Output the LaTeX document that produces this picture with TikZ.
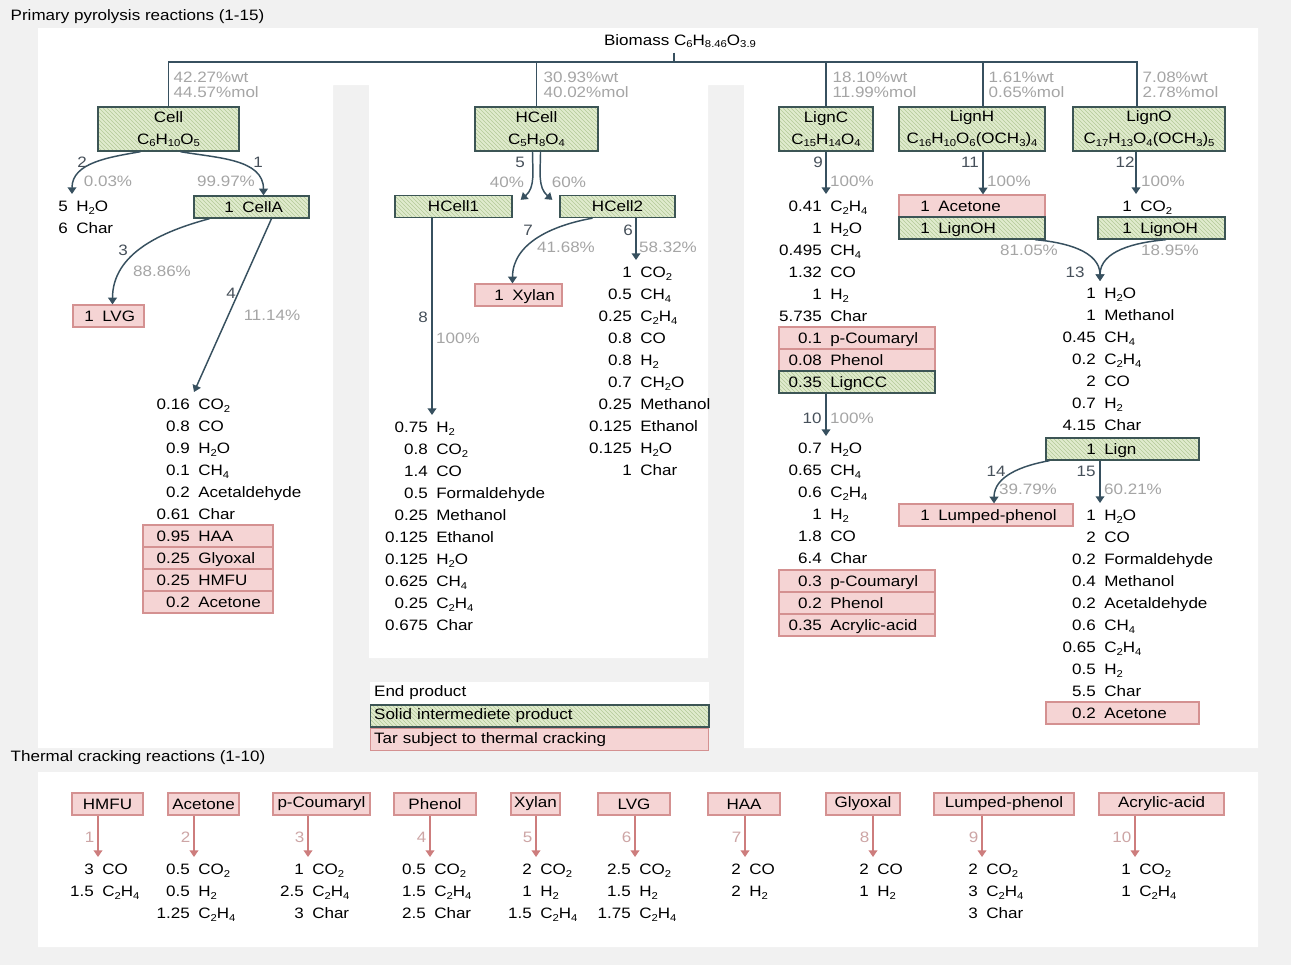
\documentclass[tikz,border=0pt]{standalone}
\usepackage{fontspec}
\setmainfont{Liberation Sans}[FakeStretch=1.13]
\usetikzlibrary{arrows.meta, positioning, calc, patterns}
\definecolor{bggray}{RGB}{241,241,241}
\definecolor{adark}{RGB}{55,80,95}
\definecolor{sfill}{RGB}{224,235,206}
\definecolor{shatch}{RGB}{180,202,152}
\definecolor{sdraw}{RGB}{60,85,85}
\definecolor{tfill}{RGB}{245,212,212}
\definecolor{tdraw}{RGB}{212,145,145}
\definecolor{pctgray}{RGB}{165,165,165}
\definecolor{rnogray}{RGB}{70,80,90}
\definecolor{tarrow}{RGB}{205,125,125}
\definecolor{tnum}{RGB}{205,165,165}

\newdimen\px \px=0.75pt
\newcommand\sub[1]{\raisebox{-2pt}{\fontsize{7.5}{7.5}\selectfont #1}}
\newcommand\dfont{\fontsize{11.3}{16.5}\selectfont}

% amount / species rows, split at x
\newcommand\splist[4]{%
  \coordinate (#1top) at (#2,#3-12);
  \foreach \amt/\spc [count=\ri from 0] in {#4} {
    \node[amt] (#1a\ri) at (#2,#3+22*\ri) {\amt};
    \node[spc] (#1s\ri) at (#2,#3+22*\ri) {\spc};
  }}
% same rows, each one in a box
\newcommand\boxrows[7]{%
  \foreach \amt/\spc [count=\ri from 0] in {#7}
    \node[#2, rowbox, minimum width=#4\px] (#1b\ri) at (#3,#6+22*\ri) {};
  \splist{#1}{#5}{#6}{#7}}

\begin{document}
\begin{tikzpicture}[x=0.75pt, y=-0.75pt, font=\dfont,
  link/.style={draw=adark, line width=1.1pt},
  arr/.style={link, -{Triangle[length=5pt, width=6.5pt]}},
  tarr/.style={draw=tarrow, line width=1.1pt, -{Triangle[length=5pt, width=6.5pt]}},
  solidbox/.style={draw=sdraw, line width=1pt, preaction={fill=sfill},
                   pattern=north west lines, pattern color=shatch},
  tarbox/.style={draw=tdraw, line width=0.9pt, fill=tfill},
  rowbox/.style={minimum height=22\px, inner sep=0pt},
  bigbox/.style={align=center, minimum height=44\px, inner sep=0pt},
  legbox/.style={minimum width=254pt, text width=248pt, align=left,
                 minimum height=16.5pt, inner xsep=3pt, inner ysep=0pt},
  amt/.style={anchor=east, inner xsep=3pt, inner ysep=0pt, text height=8pt, text depth=0pt},
  spc/.style={amt, anchor=west},
  pct/.style={text=pctgray, inner sep=1pt},
  rno/.style={text=rnogray, inner sep=1pt},
  tno/.style={text=tnum, inner sep=1pt}]
\useasboundingbox (0,0) rectangle (1291,965);
\fill[bggray] (0,0) rectangle (1291,965);
% white panels
\fill[white] (38,28) rectangle (1258,85) (38,85) rectangle (333,748)
  (369,85) rectangle (708,658) (744,85) rectangle (1258,748)
  (38,772) rectangle (1258,947);

\node[anchor=west] (prim) at (6,17) {Primary pyrolysis reactions (1-15)};
\node[anchor=west] (therm) at (6,758) {Thermal cracking reactions (1-10)};

% feed and components
\node (bio) at (680,41) {Biomass C\sub6H\sub{8.46}O\sub{3.9}};
\node[solidbox, bigbox, minimum width=141\px] (cell) at (168.5,129) {Cell\\C\sub6H\sub{10}O\sub5};
\node[solidbox, bigbox, minimum width=123\px] (hcell) at (536.5,129) {HCell\\C\sub5H\sub8O\sub4};
\node[solidbox, bigbox, minimum width=94\px] (lignc) at (826,129) {LignC\\C\sub{15}H\sub{14}O\sub4};
\node[solidbox, bigbox, minimum width=146\px] (lignh) at (972,129) {LignH\\C\sub{16}H\sub{10}O\sub6(OCH\sub3)\sub4};
\node[solidbox, bigbox, minimum width=152\px] (ligno) at (1149,129) {LignO\\C\sub{17}H\sub{13}O\sub4(OCH\sub3)\sub5};

\coordinate (top) at (674,62);
\coordinate (jh) at (983,62);
\coordinate (jo) at (1137,62);
\draw[link] (bio.south -| top) -- (top);
\draw[link] (cell.north) |- (jo) -- (jo |- ligno.north);
\draw[link] (hcell.north |- top) -- (hcell.north);
\draw[link] (lignc.north |- top) -- (lignc.north);
\draw[link] (jh) -- (jh |- lignh.north);

\foreach \nm/\x/\wt/\mol in {w1/172/42.27/44.57, w2/542/30.93/40.02,
    w3/831/18.10/11.99, w4/987/1.61/0.65, w5/1141/7.08/2.78}
  \node[pct, anchor=west, align=left, font=\fontsize{11.3}{11.25}\selectfont]
    (\nm) at (\x,84.5) {\wt\%wt\\\mol\%mol};

% cellulose
\boxrows{cella}{solidbox}{251.5}{115}{238}{207}{1/CellA}
\boxrows{lvg}{tarbox}{108.5}{71}{98}{316}{1/LVG}
\splist{wc}{72}{206}{5/H\sub2O, 6/Char}
\splist{ca}{194}{404}{0.16/CO\sub2, 0.8/CO, 0.9/H\sub2O, 0.1/CH\sub4, 0.2/Acetaldehyde, 0.61/Char}
\boxrows{cat}{tarbox}{208}{130}{194}{536}{0.95/HAA, 0.25/Glyoxal, 0.25/HMFU, 0.2/Acetone}

% hemicellulose
\node[solidbox, rowbox, minimum width=117\px] (hcell1) at (453.5,206.5) {HCell1};
\node[solidbox, rowbox, minimum width=115\px] (hcell2) at (617.5,206.5) {HCell2};
\boxrows{xylan}{tarbox}{518.5}{87}{508}{295}{1/Xylan}
\splist{hc2}{636}{272}{1/CO\sub2, 0.5/CH\sub4, 0.25/C\sub2H\sub4, 0.8/CO, 0.8/H\sub2, 0.7/CH\sub2O,
  0.25/Methanol, 0.125/Ethanol, 0.125/H\sub2O, 1/Char}
\splist{hc1}{432}{427}{0.75/H\sub2, 0.8/CO\sub2, 1.4/CO, 0.5/Formaldehyde, 0.25/Methanol,
  0.125/Ethanol, 0.125/H\sub2O, 0.625/CH\sub4, 0.25/C\sub2H\sub4, 0.675/Char}

% lignin
\splist{lc}{826}{206}{0.41/C\sub2H\sub4, 1/H\sub2O, 0.495/CH\sub4, 1.32/CO, 1/H\sub2, 5.735/Char}
\boxrows{lct}{tarbox}{857}{156}{826}{338}{0.1/p-Coumaryl, 0.08/Phenol}
\boxrows{lcc}{solidbox}{857}{156}{826}{382}{0.35/LignCC}
\splist{lcp}{826}{448}{0.7/H\sub2O, 0.65/CH\sub4, 0.6/C\sub2H\sub4, 1/H\sub2, 1.8/CO, 6.4/Char}
\boxrows{lcpt}{tarbox}{857}{156}{826}{581}{0.3/p-Coumaryl, 0.2/Phenol, 0.35/Acrylic-acid}
\boxrows{lha}{tarbox}{972}{146}{934}{206}{1/Acetone}
\boxrows{lhoh}{solidbox}{972}{146}{934}{228}{1/LignOH}
\splist{lo}{1136}{206}{1/CO\sub2}
\boxrows{looh}{solidbox}{1161.5}{127}{1136}{228}{1/LignOH}
\splist{oh}{1100}{293}{1/H\sub2O, 1/Methanol, 0.45/CH\sub4, 0.2/C\sub2H\sub4, 2/CO, 0.7/H\sub2, 4.15/Char}
\boxrows{lign}{solidbox}{1122.5}{153}{1100}{449}{1/Lign}
\boxrows{lump}{tarbox}{986}{174}{934}{515}{1/Lumped-phenol}
\splist{lg}{1100}{515}{1/H\sub2O, 2/CO, 0.2/Formaldehyde, 0.4/Methanol, 0.2/Acetaldehyde,
  0.6/CH\sub4, 0.65/C\sub2H\sub4, 0.5/H\sub2, 5.5/Char}
\boxrows{lgt}{tarbox}{1122.5}{153}{1100}{713}{0.2/Acetone}

% reactions
\draw[arr] ($(cell.south)+(-28,0)$) to[out=190, in=90] (wctop);
\draw[arr] ($(cell.south)+(12,0)$) to[out=-10, in=90] ($(cellab0.north)+(12,0)$);
\draw[arr] ($(cellab0.south)+(-42,0)$) to[out=195, in=90] ($(lvgb0.north)+(4,0)$);
\draw[arr] ($(cellab0.south)+(20,0)$) -- (catop);
\draw[arr] ($(hcell.south)+(-4,0)$) to[out=-90, in=40] ($(hcell1.north east)+(8,5)$);
\draw[arr] ($(hcell.south)+(4,0)$) to[out=-90, in=140] ($(hcell2.north west)+(-7,5)$);
\draw[arr] ($(hcell2.south)+(-25,0)$) to[out=190, in=90] ($(xylanb0.north)+(-6,0)$);
\draw[arr] (hc2top |- hcell2.south) -- (hc2top);
\draw[arr] (hc1top |- hcell1.south) -- (hc1top);
\draw[arr] (lctop |- lignc.south) -- (lctop);
\draw[arr] (jh |- lignh.south) -- (jh |- lhab0.north);
\draw[arr] (lotop |- ligno.south) -- (lotop);
\draw[arr] ($(lhohb0.south)+(63,0)$) to[out=-5, in=90] (ohtop);
\draw[arr] ($(loohb0.south)+(4.5,0)$) to[out=185, in=90] (ohtop);
\draw[arr] (lcptop |- lccb0.south) -- (lcptop);
\draw[arr] ($(lignb0.south)+(-73,0)$) to[out=190, in=90] ($(lumpb0.north)+(8,0)$);
\draw[arr] (lgtop |- lignb0.south) -- (lgtop);

\foreach \nm/\x/\y/\tx in {r1/258/162/1, r2/82/162/2, r3/123/250/3, r4/231/293/4,
    r5/520/162/5, r6/628/230/6, r7/528/230/7, r8/423/317/8, r9/818/162/9,
    r10/812/418/10, r11/970/162/11, r12/1125/162/12, r13/1075/272/13,
    r14/996/471/14, r15/1086/471/15}
  \node[rno] (\nm) at (\x,\y) {\tx};
\foreach \nm/\x/\y/\tx in {p1/226/181/99.97, p2/108/181/0.03, p3/162/271/88.86,
    p4/272/315/11.14, p5a/507/182/40, p5b/569/182/60, p6/668/247/58.32,
    p7/566/247/41.68, p8/458/338/100, p9/852/181/100, p10/852/418/100,
    p11/1009/181/100, p12/1163/181/100, p13a/1029/250/81.05, p13b/1170/250/18.95,
    p14/1028/489/39.79, p15/1133/489/60.21}
  \node[pct] (\nm) at (\x,\y) {\tx\%};

% legend
\node[legbox, fill=white] (endp) at (539.5,693) {End product};
\node[legbox, solidbox, below=0pt of endp] (solidp) {Solid intermediete product};
\node[legbox, tarbox, below=0pt of solidp] (tarp) {Tar subject to thermal cracking};

% thermal cracking
\foreach \nm/\cx/\w/\ax/\kk [count=\jn] in {HMFU/107.5/71/98/1, Acetone/203.5/71/194/2,
    p-Coumaryl/321.5/97/308/3, Phenol/435/82/430/4, Xylan/535.5/49/536/5,
    LVG/634/72/635/6, HAA/744/72/745/7, Glyoxal/863/74/873/8,
    Lumped-phenol/1004/140/982/9, Acrylic-acid/1161.5/125/1135/10}
{
  \node[tarbox, rowbox, minimum width=\w\px] (tc\jn) at (\cx,804) {\nm};
  \coordinate (tt\jn) at (\ax,857);
  \draw[tarr] (tc\jn.south -| tt\jn) -- (tt\jn);
  \node[tno, anchor=east] (tn\jn) at (\ax-2,837) {\kk};
}
\splist{tp1}{98}{869}{3/CO, 1.5/C\sub2H\sub4}
\splist{tp2}{194}{869}{0.5/CO\sub2, 0.5/H\sub2, 1.25/C\sub2H\sub4}
\splist{tp3}{308}{869}{1/CO\sub2, 2.5/C\sub2H\sub4, 3/Char}
\splist{tp4}{430}{869}{0.5/CO\sub2, 1.5/C\sub2H\sub4, 2.5/Char}
\splist{tp5}{536}{869}{2/CO\sub2, 1/H\sub2, 1.5/C\sub2H\sub4}
\splist{tp6}{635}{869}{2.5/CO\sub2, 1.5/H\sub2, 1.75/C\sub2H\sub4}
\splist{tp7}{745}{869}{2/CO, 2/H\sub2}
\splist{tp8}{873}{869}{2/CO, 1/H\sub2}
\splist{tp9}{982}{869}{2/CO\sub2, 3/C\sub2H\sub4, 3/Char}
\splist{tp10}{1135}{869}{1/CO\sub2, 1/C\sub2H\sub4}
\end{tikzpicture}
\end{document}
